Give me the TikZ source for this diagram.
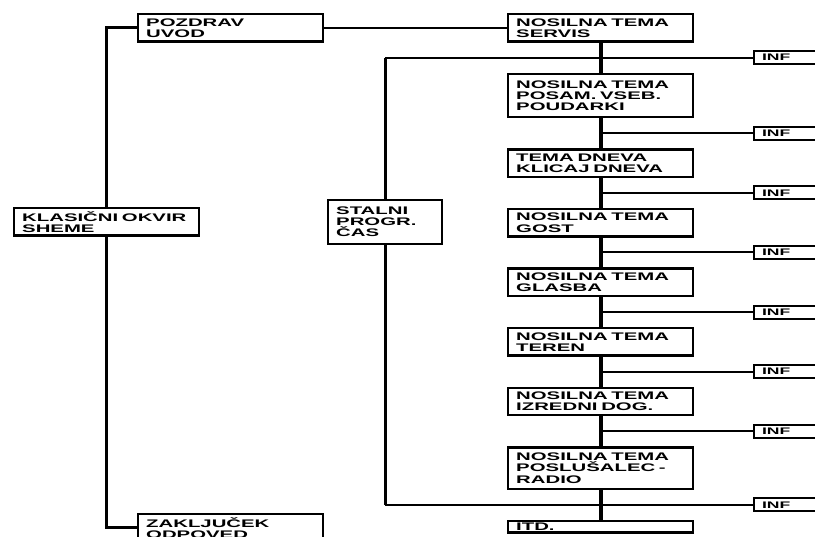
\documentclass[tikz,border=0pt]{standalone}
\usepackage{fontspec}
\newfontfamily\shemafont{Liberation Sans}[FakeStretch=1.85]
\usetikzlibrary{positioning,calc,backgrounds}
\tikzset{>=latex}

\begin{document}
\begin{tikzpicture}[x=1pt, y=-1pt, node distance=29.8pt,
    skatla/.style={draw, rectangle, fill=white, line width=2.4pt, align=left, inner ysep=0pt},
    okvir/.style={skatla, anchor=north west, minimum width=185pt, text width=169pt, inner xsep=8pt, minimum height=27.4pt, font=\shemafont\bfseries\fontsize{11}{11.2}\selectfont},
    okvir3/.style={okvir, minimum height=43.4pt},
    stalni/.style={okvir, minimum width=113.6pt, text width=97.6pt, minimum height=43.6pt},
    inf/.style={skatla, anchor=west, line width=2pt, minimum width=90pt, text width=74pt, inner xsep=8pt, minimum height=13pt, font=\shemafont\bfseries\fontsize{9.5}{10}\selectfont},
    vodilo/.style={line width=3pt},
    deblo/.style={line width=4pt},
    tanka/.style={line width=2pt}]
    \useasboundingbox (0,0) rectangle (815,537);
    \clip (0,0) rectangle (815,537);

    % Nodes
    \node[okvir] (klasicni) at (13,207) {KLASIČNI OKVIR\\SHEME};
    \node[okvir] (pozdrav) at (137,13) {POZDRAV\\UVOD};
    \node[okvir] (zakljucek) at (137,513) {ZAKLJUČEK\\ODPOVED};
    \node[stalni] (stalni) at (327,199) {STALNI\\PROGR.\\ČAS};
    \node[okvir] (servis) at (507,13) {NOSILNA TEMA\\SERVIS};
    \node[okvir3, below=of servis] (posam) {NOSILNA TEMA\\POSAM. VSEB.\\POUDARKI};
    \node[okvir, below=of posam] (dneva) {TEMA DNEVA\\KLICAJ DNEVA};
    \node[okvir, below=of dneva] (gost) {NOSILNA TEMA\\GOST};
    \node[okvir, below=of gost] (glasba) {NOSILNA TEMA\\GLASBA};
    \node[okvir, below=of glasba] (teren) {NOSILNA TEMA\\TEREN};
    \node[okvir, below=of teren] (izredni) {NOSILNA TEMA\\IZREDNI DOG.};
    \node[okvir3, minimum height=41.4pt, below=of izredni] (poslusalec) {NOSILNA TEMA\\POSLUŠALEC -\\RADIO};
    \node[okvir, minimum height=11.6pt, text height=8pt, text depth=0pt, inner ysep=1.5pt, below=of poslusalec] (itd) {ITD.};

    \foreach \a/\b [count=\i] in {servis/posam, posam/dneva, dneva/gost, gost/glasba, glasba/teren, teren/izredni, izredni/poslusalec, poslusalec/itd} {
        \coordinate (m\i) at ($(\a.south)!0.5!(\b.north)$);
        \node[inf] (inf\i) at (m\i -| 753,0) {INF};
    }

    % Lines
    \begin{pgfonlayer}{background}
        \draw[vodilo] (pozdrav.west) -| (klasicni.center) |- (zakljucek.west);
        \draw[tanka] (pozdrav.east) -- (servis.west);
        \draw[deblo] (servis.south) -- (itd.north);
        \draw[vodilo] (stalni |- m1) -- (stalni |- m8);
        \draw[tanka] (stalni |- m1) -- (inf1.west);
        \draw[tanka] (stalni |- m8) -- (inf8.west);
        \foreach \i in {2,...,7}
            \draw[tanka] (m\i) -- (inf\i.west);
    \end{pgfonlayer}
\end{tikzpicture}
\end{document}
